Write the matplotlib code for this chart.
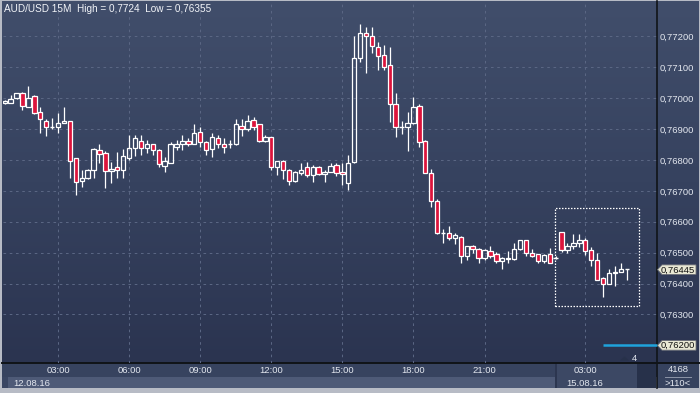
import numpy as np
import matplotlib
matplotlib.use("Agg")
import matplotlib.pyplot as plt
from matplotlib.patches import Rectangle, Polygon
from matplotlib.collections import LineCollection

plt.rcParams['font.family'] = ['Liberation Sans', 'DejaVu Sans']

# ---------------- data (AUD/USD 15M candles) ----------------
opens = [0.76985, 0.76983, 0.76999, 0.77015, 0.76972, 0.77007, 0.76954, 0.76927, 0.76906, 0.76905,
         0.76918, 0.76926, 0.76805, 0.76732, 0.76740, 0.76769, 0.76832, 0.76824, 0.76763, 0.76776,
         0.76769, 0.76807, 0.76840, 0.76862, 0.76839, 0.76850, 0.76832, 0.76780, 0.76789, 0.76842,
         0.76850, 0.76860, 0.76853, 0.76889, 0.76859, 0.76834, 0.76872, 0.76853, 0.76851, 0.76851,
         0.76909, 0.76899, 0.76929, 0.76915, 0.76862, 0.76873, 0.76776, 0.76796, 0.76769, 0.76732,
         0.76759, 0.76776, 0.76752, 0.76778, 0.76754, 0.76762, 0.76785, 0.76760, 0.76725, 0.76794,
         0.77129, 0.77210, 0.77201, 0.77164, 0.77139, 0.77107, 0.76981, 0.76905, 0.76905, 0.76918,
         0.76974, 0.76861, 0.76759, 0.76666, 0.76565, 0.76565, 0.76549, 0.76550, 0.76490, 0.76523,
         0.76513, 0.76483, 0.76504, 0.76495, 0.76474, 0.76484, 0.76478, 0.76513, 0.76540, 0.76500,
         0.76495, 0.76473, 0.76495, 0.76483, 0.76567, 0.76509, 0.76523, 0.76530, 0.76540, 0.76510,
         0.76477, 0.76419, 0.76400, 0.76435, 0.76439, 0.76448]
highs = [0.76995, 0.77010, 0.77017, 0.77020, 0.77039, 0.77010, 0.76972, 0.76934, 0.76935, 0.76952,
         0.76972, 0.76927, 0.76805, 0.76769, 0.76770, 0.76840, 0.76851, 0.76830, 0.76792, 0.76826,
         0.76835, 0.76880, 0.76880, 0.76880, 0.76866, 0.76852, 0.76834, 0.76808, 0.76859, 0.76864,
         0.76880, 0.76870, 0.76916, 0.76905, 0.76860, 0.76886, 0.76880, 0.76870, 0.76864, 0.76934,
         0.76934, 0.76945, 0.76938, 0.76916, 0.76882, 0.76875, 0.76798, 0.76799, 0.76770, 0.76765,
         0.76789, 0.76794, 0.76785, 0.76780, 0.76767, 0.76789, 0.76790, 0.76789, 0.76815, 0.77201,
         0.77240, 0.77231, 0.77229, 0.77181, 0.77172, 0.77166, 0.77017, 0.76927, 0.76956, 0.77005,
         0.76981, 0.76864, 0.76770, 0.76675, 0.76575, 0.76585, 0.76562, 0.76553, 0.76523, 0.76525,
         0.76515, 0.76512, 0.76523, 0.76502, 0.76486, 0.76505, 0.76531, 0.76542, 0.76542, 0.76511,
         0.76497, 0.76497, 0.76514, 0.76488, 0.76568, 0.76531, 0.76560, 0.76560, 0.76549, 0.76518,
         0.76499, 0.76420, 0.76448, 0.76458, 0.76468, 0.76448]
lows = [0.76980, 0.76983, 0.76996, 0.76963, 0.76970, 0.76950, 0.76888, 0.76877, 0.76899, 0.76886,
        0.76918, 0.76740, 0.76688, 0.76713, 0.76737, 0.76740, 0.76789, 0.76708, 0.76724, 0.76740,
        0.76740, 0.76799, 0.76812, 0.76815, 0.76821, 0.76815, 0.76776, 0.76761, 0.76789, 0.76832,
        0.76832, 0.76845, 0.76850, 0.76842, 0.76815, 0.76808, 0.76840, 0.76823, 0.76839, 0.76848,
        0.76877, 0.76894, 0.76896, 0.76859, 0.76859, 0.76769, 0.76751, 0.76737, 0.76718, 0.76730,
        0.76751, 0.76745, 0.76729, 0.76750, 0.76729, 0.76760, 0.76748, 0.76718, 0.76702, 0.76790,
        0.77118, 0.77080, 0.77147, 0.77091, 0.77091, 0.76923, 0.76873, 0.76883, 0.76829, 0.76915,
        0.76842, 0.76757, 0.76648, 0.76560, 0.76530, 0.76542, 0.76527, 0.76466, 0.76475, 0.76499,
        0.76465, 0.76475, 0.76484, 0.76466, 0.76448, 0.76466, 0.76476, 0.76510, 0.76489, 0.76486,
        0.76465, 0.76465, 0.76468, 0.76480, 0.76502, 0.76499, 0.76513, 0.76518, 0.76491, 0.76457,
        0.76412, 0.76355, 0.76399, 0.76391, 0.76438, 0.76410]
closes = [0.76990, 0.76996, 0.77015, 0.76974, 0.76999, 0.76952, 0.76934, 0.76905, 0.76906, 0.76920,
          0.76927, 0.76797, 0.76729, 0.76740, 0.76769, 0.76834, 0.76818, 0.76764, 0.76770, 0.76769,
          0.76812, 0.76839, 0.76870, 0.76839, 0.76850, 0.76832, 0.76786, 0.76796, 0.76850, 0.76850,
          0.76861, 0.76853, 0.76886, 0.76859, 0.76832, 0.76873, 0.76850, 0.76842, 0.76851, 0.76915,
          0.76899, 0.76926, 0.76907, 0.76862, 0.76873, 0.76776, 0.76796, 0.76767, 0.76732, 0.76760,
          0.76769, 0.76750, 0.76776, 0.76753, 0.76760, 0.76780, 0.76759, 0.76753, 0.76789, 0.77129,
          0.77210, 0.77201, 0.77170, 0.77137, 0.77100, 0.76981, 0.76907, 0.76905, 0.76918, 0.76970,
          0.76859, 0.76759, 0.76666, 0.76565, 0.76565, 0.76549, 0.76556, 0.76490, 0.76521, 0.76513,
          0.76483, 0.76510, 0.76490, 0.76474, 0.76484, 0.76478, 0.76511, 0.76540, 0.76500, 0.76490,
          0.76474, 0.76492, 0.76468, 0.76483, 0.76510, 0.76520, 0.76530, 0.76540, 0.76504, 0.76477,
          0.76413, 0.76400, 0.76435, 0.76439, 0.76448, 0.76445]

time_tick_idx = [9, 21, 33, 45, 57, 69, 81, 98]
time_tick_lbl = ['03:00', '06:00', '09:00', '12:00', '15:00', '18:00', '21:00', '03:00']
price_ticks = [0.763, 0.764, 0.765, 0.766, 0.767, 0.768, 0.769, 0.770, 0.771, 0.772]
day_labels = ['12.08.16', '15.08.16']
session_break_idx = 93.5
alert_level = 0.762
alert_start_idx = 101
box_idx = [92.95, 107.0]
box_price = [0.76326, 0.76644]
title = 'AUD/USD 15M  High = 0,7724  Low = 0,76355'

W, H = 700, 393
fig = plt.figure(figsize=(W / 100, H / 100), dpi=100)
fig.patch.set_facecolor('#b7bbc5')

# background axes in pixel coordinates
bg = fig.add_axes([0, 0, 1, 1], zorder=0)
bg.set_xlim(0, W); bg.set_ylim(H, 0); bg.axis('off')
grad = np.linspace(0, 1, 256)[:, None]
from matplotlib.colors import LinearSegmentedColormap
cmap = LinearSegmentedColormap.from_list('bg', ['#414e6b', '#36425f', '#2b3450'])
bg.imshow(grad, extent=(2, W - 1, 363, 1), aspect='auto', cmap=cmap, interpolation='bilinear', zorder=0)


def rect(x0, y0, x1, y1, color, z=1):
    bg.add_patch(Rectangle((x0, y0), x1 - x0, y1 - y0, facecolor=color, edgecolor='none', zorder=z))


rect(2, 363, 657, 377, '#37435f')
rect(8, 377, 555, 388, '#4e5a77')
rect(2, 377, 8, 388, '#3a4663')
rect(557, 363, 637, 388, '#3c4864')
rect(637, 363, 656, 388, '#27314a')
rect(657, 363, W - 1, 388, '#36425e')
rect(555, 363, 557, 388, '#2c3650')
bg.plot([2, W - 1], [363, 363], color='#101418', lw=1.4, zorder=3)
bg.plot([656.5, 656.5], [1, 388], color='#101418', lw=1.2, zorder=3)
bg.plot([665, 691], [377, 377], color='#8d95a8', lw=0.7, zorder=3)

# main plot axes
L, R, T, B = 3, 656.5, 2, 363
ax = fig.add_axes([L / W, (H - B) / H, (R - L) / W, (B - T) / H], zorder=1)
ax.set_facecolor('none')
ymin, ymax = 0.76143, 0.77311
ax.set_ylim(ymin, ymax)
ax.set_xlim(-0.29, 110.03)
for s in ax.spines.values():
    s.set_visible(False)

ax.set_yticks(price_ticks)
ax.set_yticklabels([('%.5f' % p).replace('.', ',') for p in price_ticks])
ax.yaxis.tick_right()
ax.tick_params(axis='y', length=0, pad=2.2, labelsize=6.8, labelcolor='#e3e7ef')
ax.set_xticks(time_tick_idx)
ax.set_xticklabels(time_tick_lbl)
ax.tick_params(axis='x', length=0, pad=2.2, labelsize=6.8, labelcolor='#e3e7ef')
ax.grid(True, color='#5a6683', lw=0.75, ls=(0, (2.5, 3.5)))

# candles
wick_segs = []
wpx = 0.74
for i, (o, h, l, c) in enumerate(zip(opens, highs, lows, closes)):
    top, bot = max(o, c), min(o, c)
    if top - bot < 0.00004:
        mid = (top + bot) / 2
        ax.plot([i - wpx / 2, i + wpx / 2], [mid, mid], color='white', lw=1.0, zorder=4, solid_capstyle='butt')
        wick_segs.append([(i, l), (i, h)])
        continue
    if h > top:
        wick_segs.append([(i, top), (i, h)])
    if l < bot:
        wick_segs.append([(i, l), (i, bot)])
    fc = 'none' if c >= o else '#dc143c'
    ax.add_patch(Rectangle((i - wpx / 2, bot), wpx, top - bot, facecolor=fc,
                           edgecolor='white', lw=0.9, zorder=4))
ax.add_collection(LineCollection(wick_segs, colors='white', linewidths=0.9, zorder=3))

# dotted selection box
ax.add_patch(Rectangle((box_idx[0], box_price[0]), box_idx[1] - box_idx[0], box_price[1] - box_price[0],
                       facecolor='none', edgecolor='white', lw=0.9, ls=(0, (1.2, 1.2)), zorder=5))
# alert level line
ax.plot([alert_start_idx, 110.03], [alert_level, alert_level], color='#1fa3dc', lw=1.8, zorder=5,
        solid_capstyle='butt', clip_on=False)

# overlay (pixel coords)
ov = fig.add_axes([0, 0, 1, 1], zorder=6)
ov.set_xlim(0, W); ov.set_ylim(H, 0); ov.axis('off'); ov.set_facecolor('none')

ov.text(4, 9, title, fontsize=7.2, color='#f2f4f8', va='center', ha='left')
ov.text(13, 383, day_labels[0], fontsize=6.8, color='#e3e7ef', va='center', ha='left')
ov.text(566, 383, day_labels[1], fontsize=6.8, color='#e3e7ef', va='center', ha='left')
ov.text(678, 370, '4168', fontsize=6.8, color='#e3e7ef', va='center', ha='center')
ov.text(678, 383, '>110<', fontsize=6.8, color='#e3e7ef', va='center', ha='center')
ov.add_patch(Polygon([(620, 360.5), (624.5, 356.5), (629, 360.5)], closed=True, facecolor='#27314a',
                     edgecolor='none'))
ov.text(632, 358.5, '4', fontsize=6.8, color='#e3e7ef', va='center', ha='left')


def ypix(p):
    return T + (ymax - p) / (ymax - ymin) * (B - T)


for p in [closes[-1], alert_level]:
    y = ypix(p)
    ov.add_patch(Polygon([(657.5, y), (662, y - 4.8), (696, y - 4.8), (696, y + 4.8), (662, y + 4.8)],
                         closed=True, facecolor='#e9e8d4', edgecolor='#6c6f78', lw=0.6))
    ov.text(661, y + 0.3, ('%.5f' % p).replace('.', ','), fontsize=6.8, color='#111111',
            va='center', ha='left')

fig.savefig('out.png', dpi=100, facecolor=fig.get_facecolor())
